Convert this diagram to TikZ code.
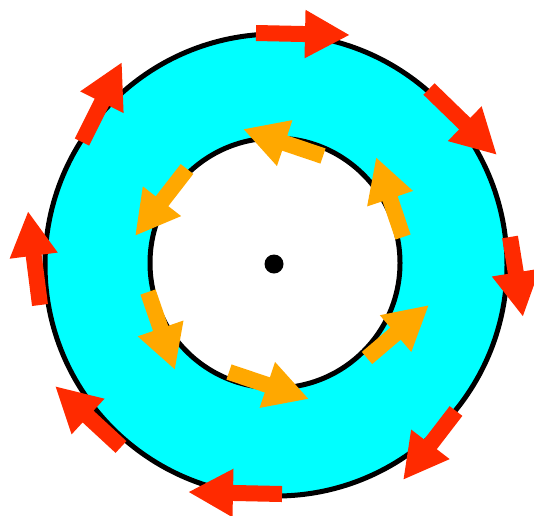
\documentclass[tikz,border=0pt]{standalone}
\usetikzlibrary{arrows.meta}
\definecolor{ringcyan}{RGB}{0,255,255}
\definecolor{arrred}{RGB}{255,42,0}
\definecolor{arrorange}{RGB}{255,168,0}
\tikzset{
  redarrow/.style={draw=arrred, line width=16pt, -{Triangle[length=45pt,width=45pt,color=arrred]}},
  orangearrow/.style={draw=arrorange, line width=16pt, -{Triangle[length=44pt,width=45pt,color=arrorange]}},
  ringline/.style={draw=black, line width=5pt}
}
\begin{document}
\begin{tikzpicture}[x=1pt,y=-1pt]
\useasboundingbox (0,0) rectangle (534,515);
% annulus
\fill[ringcyan, even odd rule] (276,265) circle (231) (275,263) circle (125);
\draw[ringline] (276,265) circle (231);
\draw[ringline] (275,263) circle (125);
% outer red arrows (clockwise)
\draw[redarrow] (256,33) -- (350,35);
\draw[redarrow] (429,89) -- (497,155);
\draw[redarrow] (510,237) -- (523,317);
\draw[redarrow] (456,411) -- (403,480);
\draw[redarrow] (282,494) -- (188,492);
\draw[redarrow] (121,447) -- (55,386);
\draw[redarrow] (40,305) -- (28,211);
\draw[redarrow] (82,142) -- (122,62);
% inner orange arrows (counter-clockwise)
\draw[orangearrow] (323,156) -- (243,129);
\draw[orangearrow] (187,169) -- (135,236);
\draw[orangearrow] (148,292) -- (175,370);
\draw[orangearrow] (229,372) -- (309,399);
\draw[orangearrow] (367,358) -- (429,305);
\draw[orangearrow] (403,237) -- (376,157);
% centre dot
\fill[black] (274,264) circle (9.5);
\end{tikzpicture}
\end{document}
